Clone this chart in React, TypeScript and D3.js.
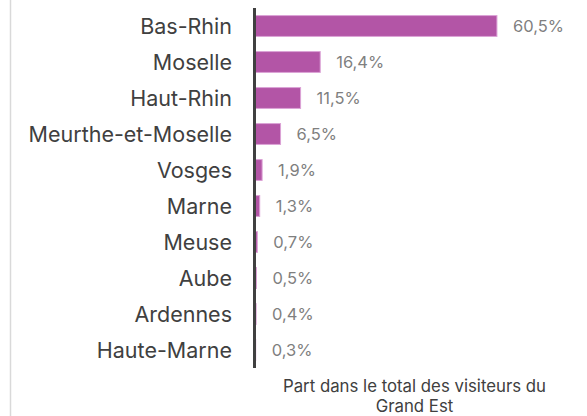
import React, { useEffect, useRef } from "react";
import * as d3 from "d3";

const departements = [
  "Bas-Rhin",
  "Moselle",
  "Haut-Rhin",
  "Meurthe-et-Moselle",
  "Vosges",
  "Marne",
  "Meuse",
  "Aube",
  "Ardennes",
  "Haute-Marne",
];
const parts = [60.5, 16.4, 11.5, 6.5, 1.9, 1.3, 0.7, 0.5, 0.4, 0.3];
const axisTitle = ["Part dans le total des visiteurs du", "Grand Est"];

const App = () => {
  const svgRef = useRef<SVGSVGElement>(null);

  useEffect(() => {
    const svg = d3.select(svgRef.current);
    svg.selectAll("*").remove();

    const height = 416;
    const font = "Inter, 'Open Sans', sans-serif";

    const data = departements.map((d, i) => ({ name: d, value: parts[i] }));

    const y = d3
      .scaleBand()
      .domain(departements)
      .range([8, 368])
      .paddingInner(0.42)
      .paddingOuter(0.21);

    const x = d3.scaleLinear().domain([0, 70]).range([254.5, 535]);

    // left frame line
    svg
      .append("line")
      .attr("x1", 10.5)
      .attr("x2", 10.5)
      .attr("y1", 0)
      .attr("y2", height)
      .attr("stroke", "#d9d9d9")
      .attr("stroke-width", 1.5);

    svg
      .append("g")
      .selectAll("rect")
      .data(data)
      .join("rect")
      .attr("x", x(0))
      .attr("y", (d) => y(d.name)!)
      .attr("width", (d) => x(d.value) - x(0))
      .attr("height", y.bandwidth())
      .attr("fill", "#b355a6")
      .attr("stroke", "#dca3d6")
      .attr("stroke-width", 1);

    // category labels
    svg
      .append("g")
      .selectAll("text")
      .data(data)
      .join("text")
      .attr("x", 232)
      .attr("y", (d) => y(d.name)! + y.bandwidth() / 2)
      .attr("dy", "0.35em")
      .attr("text-anchor", "end")
      .attr("font-family", font)
      .attr("font-size", 21.5)
      .attr("fill", "#404040")
      .text((d) => d.name);

    // value labels
    svg
      .append("g")
      .selectAll("text")
      .data(data)
      .join("text")
      .attr("x", (d) => x(d.value) + 16)
      .attr("y", (d) => y(d.name)! + y.bandwidth() / 2)
      .attr("dy", "0.35em")
      .attr("font-family", font)
      .attr("font-size", 16.5)
      .attr("fill", "#7f7f7f")
      .text((d) => d3.format(".1f")(d.value).replace(".", ",") + "%");

    // axis line
    svg
      .append("line")
      .attr("x1", 254.5)
      .attr("x2", 254.5)
      .attr("y1", 8)
      .attr("y2", 368)
      .attr("stroke", "#404040")
      .attr("stroke-width", 3);

    svg
      .append("text")
      .attr("x", 414.5)
      .attr("font-family", font)
      .attr("font-size", 16.8)
      .attr("fill", "#404040")
      .attr("text-anchor", "middle")
      .selectAll("tspan")
      .data(axisTitle)
      .join("tspan")
      .attr("x", 414.5)
      .attr("y", (d, i) => 392 + i * 20)
      .text((d) => d);
  }, []);

  return (
    <svg
      ref={svgRef}
      width={587}
      height={416}
      style={{ position: "absolute", left: 0, top: 0, background: "#fff" }}
    />
  );
};

export default App;
